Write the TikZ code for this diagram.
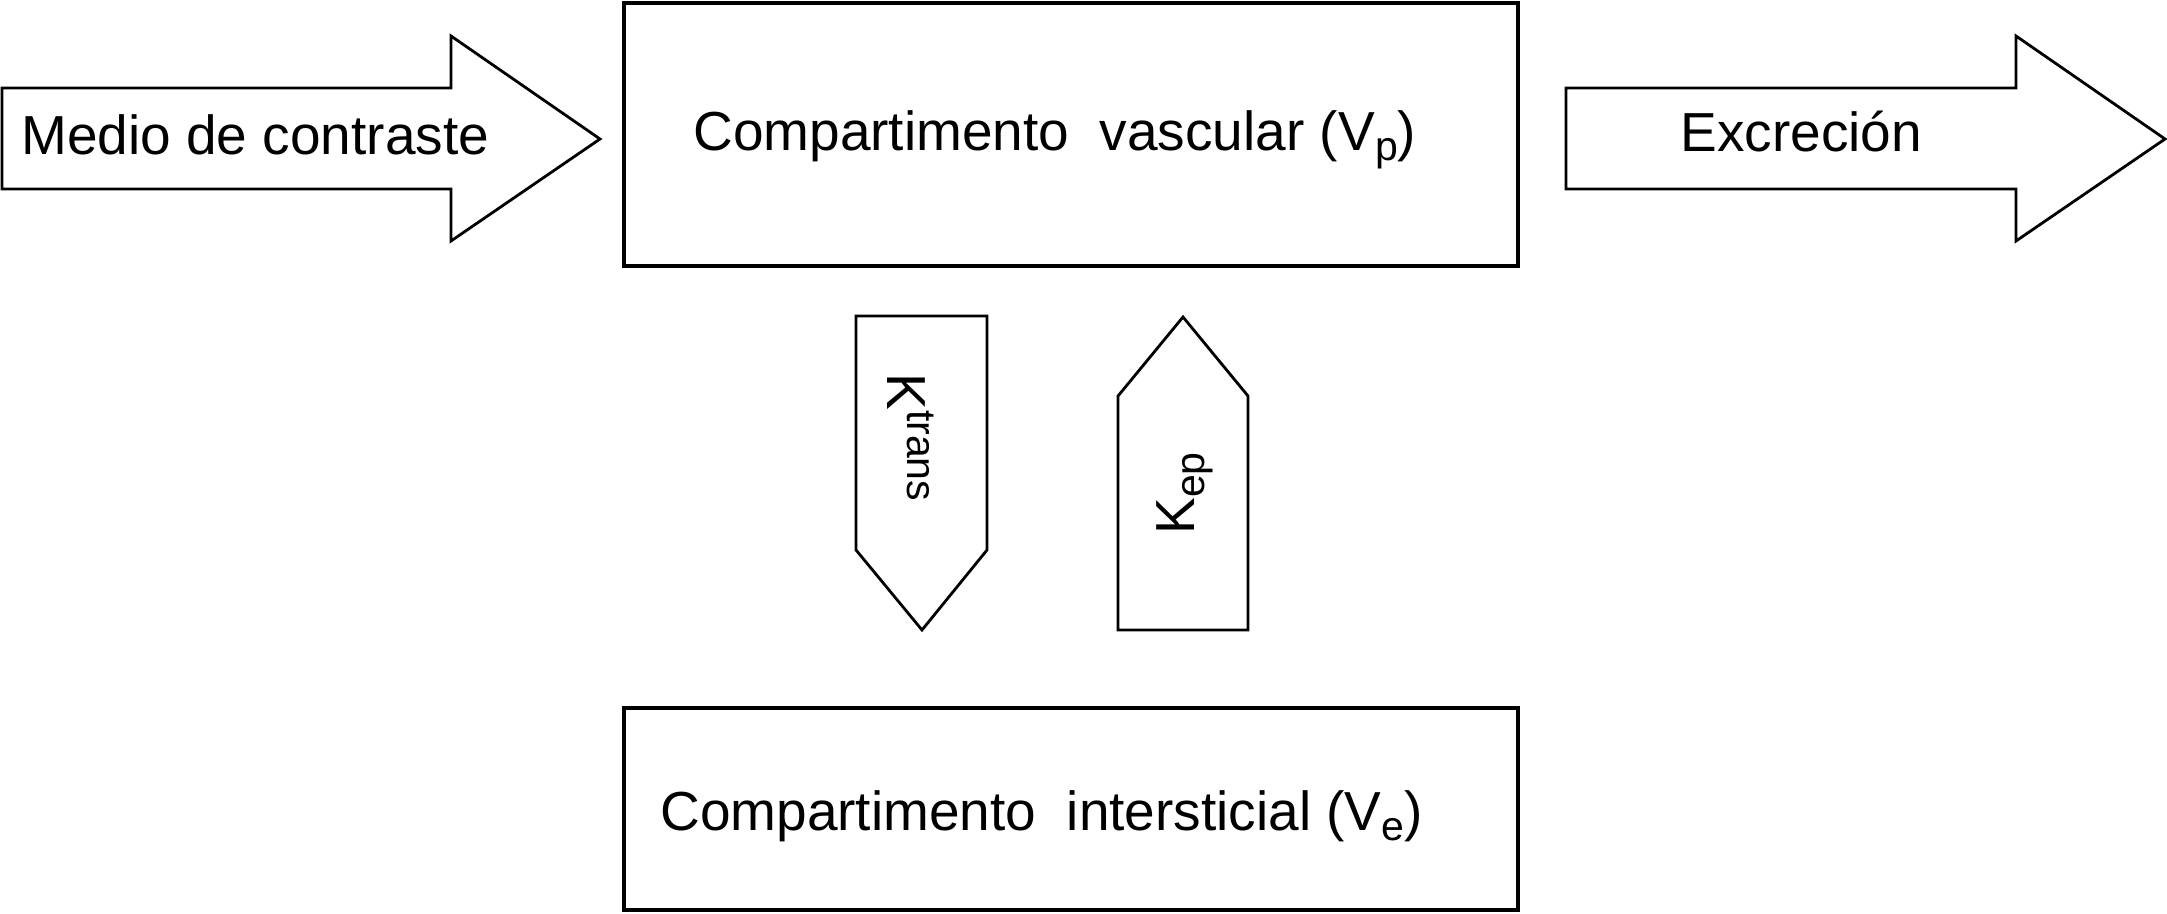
\documentclass[tikz,border=0pt]{standalone}
\usepackage{fontspec}
\setmainfont{Liberation Sans}
\newcommand\supx[1]{\raisebox{10pt}{\fontsize{20.5}{24}\selectfont #1}}
\newcommand\subx[1]{\raisebox{-5pt}{\fontsize{20.5}{24}\selectfont #1}}
\begin{document}
\begin{tikzpicture}[x=0.5pt,y=-0.5pt,
  shapeline/.style={draw=black, line width=1.4pt, line join=miter},
  boxline/.style={draw=black, line width=1.75pt},
  lbl/.style={inner sep=0pt, anchor=base west, font=\fontsize{27.5}{33}\selectfont}]
\useasboundingbox (0,0) rectangle (2167,914);
% boxes
\draw[boxline] (624,3) rectangle (1518,266);
\draw[boxline] (624,708) rectangle (1518,910);
% big horizontal arrows
\draw[shapeline] (2,88) -- (451,88) -- (451,36) -- (600,139) -- (451,241) -- (451,189) -- (2,189) -- cycle;
\draw[shapeline] (1566,88) -- (2016,88) -- (2016,36) -- (2165,139) -- (2016,241) -- (2016,189) -- (1566,189) -- cycle;
% vertical arrows
\draw[shapeline] (856,316) -- (987,316) -- (987,550) -- (922,630) -- (856,550) -- cycle;
\draw[shapeline] (1118,630) -- (1248,630) -- (1248,396) -- (1183,317) -- (1118,396) -- cycle;
% labels
\node[lbl] (medio) at (21,155) {Medio de contraste};
\node[lbl] (vasc) at (693,151) {Compartimento\ \ vascular (V\subx{p})};
\node[lbl] (excr) at (1680,152) {Excreción};
\node[lbl] (inter) at (660,830) {Compartimento\ \ intersticial (V\subx{e})};
\node[lbl, rotate=-90] (ktrans) at (887,373) {K\supx{trans}};
\node[lbl, rotate=90] (kep) at (1194,535) {K\subx{ep}};
\end{tikzpicture}
\end{document}
